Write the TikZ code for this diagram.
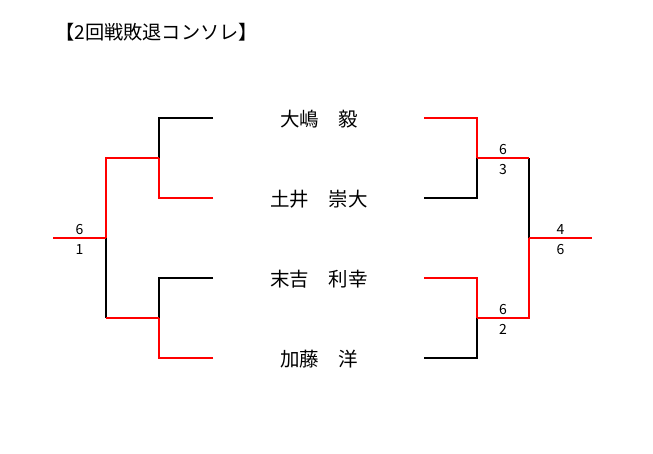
\documentclass[tikz,border=0pt]{standalone}
\usepackage{fontspec}
\setmainfont{Noto Sans CJK JP}
\usetikzlibrary{positioning,calc}

\begin{document}
\begin{tikzpicture}[x=1pt,y=-1pt,
	win/.style={draw=red,line width=2pt},
	lose/.style={draw=black,line width=2pt},
	player/.style={inner sep=0pt,font=\fontsize{19.5}{19.5}\selectfont},
	score/.style={inner sep=0pt,font=\fontsize{14}{14}\selectfont}]
\useasboundingbox (0,0) rectangle (653,454);
\node [anchor=west,inner sep=0pt,font=\fontsize{19.2}{19.2}\selectfont] (title) at (55,32) {【2回戦敗退コンソレ】};

% players
\node [player] (p1) at (319,119) {大嶋　毅};
\node [player] (p2) at (319,199) {土井　崇大};
\node [player] (p3) at (319,279) {末吉　利幸};
\node [player] (p4) at (319,359) {加藤　洋};
\foreach \p in {p1,p2,p3,p4} {
	\coordinate (\p l) at ($(\p.center)+(-106,-1)$);
	\coordinate (\p r) at ($(\p.center)+(105,-1)$);
}

% joints
\coordinate (a1) at (159,158);
\coordinate (a2) at (159,318);
\coordinate (la) at (106,238);
\coordinate (lo) at (53,238);
\coordinate (b1) at (477,158);
\coordinate (b2) at (477,318);
\coordinate (ra) at (529,238);
\coordinate (ro) at (592,238);

% left side
\draw [lose] (p1l) -| (a1);
\draw [lose] (p3l) -| (a2);
\draw [lose] (a2 -| la) -- (la);
\draw [win] (p2l) -| (a1);
\draw [win] (p4l) -| (a2);
\draw [win] (a2) -- (a2 -| la);
\draw [win] (a1) -| (la);
\draw [win] (la) -- (lo);

% right side
\draw [lose] (p2r) -| (b1);
\draw [lose] (p4r) -| (b2);
\draw [lose] (b1 -| ra) -- (ra);
\draw [win] (p1r) -| (b1);
\draw [win] (p3r) -| (b2);
\draw [win] (b1) -- (b1 -| ra);
\draw [win] (b2) -| (ra);
\draw [win] (ra) -- (ro);

% scores
\node [score,above=3pt] (sl1) at ($(la)!0.5!(lo)$) {6};
\node [score,below=6pt] (sl2) at ($(la)!0.5!(lo)$) {1};
\node [score,above=3pt] (sb1) at ($(b1)!0.5!(b1 -| ra)$) {6};
\node [score,below=6pt] (sb2) at ($(b1)!0.5!(b1 -| ra)$) {3};
\node [score,above=3pt] (sc1) at ($(b2)!0.5!(b2 -| ra)$) {6};
\node [score,below=6pt] (sc2) at ($(b2)!0.5!(b2 -| ra)$) {2};
\node [score,above=3pt] (sr1) at ($(ra)!0.5!(ro)$) {4};
\node [score,below=6pt] (sr2) at ($(ra)!0.5!(ro)$) {6};
\end{tikzpicture}
\end{document}
